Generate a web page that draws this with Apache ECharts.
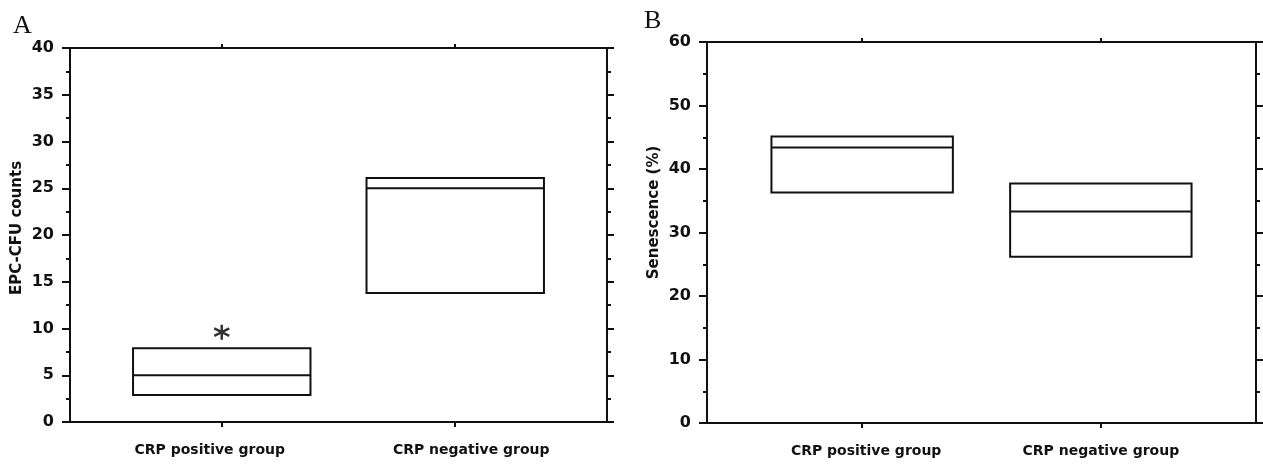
<!DOCTYPE html>
<html>
<head>
<meta charset="utf-8">
<script src="https://cdn.jsdelivr.net/npm/echarts@6/dist/echarts.min.js"></script>
<style>
  html, body { margin: 0; background: #fff; }
  #main { width: 1263px; height: 464px; }
</style>
</head>
<body>
<div id="main"></div>
<script>
// groups on the x axis (placed at x = 0 and x = 1)
var groups = ["CRP positive group", "CRP negative group"];

// panel A - EPC-CFU counts: box bottom / median / box top
var epcLow = [2.9, 13.8];
var epcMedian = [5.0, 25.0];
var epcHigh = [7.9, 26.1];
var epcStar = [[0, 9.6]];
var epcMax = 40, epcStep = 5;

// panel B - senescence (%)
var senLow = [36.3, 26.2];
var senMedian = [43.4, 33.3];
var senHigh = [45.1, 37.7];
var senMax = 60, senStep = 10;

var INK = "#111";
var HALF = 0.38; // half width of a box, in x units

function boxData(low, med, high) {
  return groups.map(function (g, i) { return [i, low[i], med[i], high[i]]; });
}

function renderBox(params, api) {
  var x = api.value(0);
  var lo = api.coord([x - HALF, api.value(1)]);
  var hi = api.coord([x + HALF, api.value(3)]);
  var md = api.coord([x, api.value(2)]);
  return {
    type: "group",
    children: [
      { type: "rect", shape: { x: lo[0], y: hi[1], width: hi[0] - lo[0], height: lo[1] - hi[1] },
        style: { fill: "none", stroke: INK, lineWidth: 2 } },
      { type: "line", shape: { x1: lo[0], y1: md[1], x2: hi[0], y2: md[1] },
        style: { stroke: INK, lineWidth: 2 } }
    ]
  };
}

// shift = horizontal nudge of each group label (px), as in the scanned figure
function xAxisPair(grid, shift) {
  var base = {
    gridIndex: grid, type: "value", min: -0.65, max: 1.65,
    splitLine: { show: false },
    axisLine: { onZero: false, lineStyle: { color: INK, width: 2 } }
  };
  var rich = {};
  shift.forEach(function (s, i) {
    rich["g" + i] = {
      color: INK, fontFamily: "DejaVu Sans", fontSize: 14, fontWeight: "bold",
      padding: [0, s < 0 ? -2 * s : 0, 0, s > 0 ? 2 * s : 0]
    };
  });
  return [
    Object.assign({}, base, {
      position: "bottom",
      axisTick: { customValues: [0, 1], length: 5, lineStyle: { color: INK, width: 2 } },
      axisLabel: {
        customValues: [0, 1], margin: 21, rich: rich,
        formatter: function (v) {
          var i = Math.round(v);
          return "{g" + i + "|" + groups[i] + "}";
        }
      }
    }),
    Object.assign({}, base, {
      position: "top",
      axisTick: { customValues: [0, 1], length: 4, lineStyle: { color: INK, width: 2 } },
      axisLabel: { show: false }
    })
  ];
}

function yAxisPair(grid, max, step, name, namePad) {
  var base = {
    gridIndex: grid, type: "value", min: 0, max: max, interval: step,
    splitLine: { show: false },
    axisLine: { show: true, onZero: false, lineStyle: { color: INK, width: 2 } },
    axisTick: { show: true, length: 8, lineStyle: { color: INK, width: 2 } },
    minorTick: { show: true, splitNumber: 2, length: 4, lineStyle: { color: INK, width: 2 } }
  };
  return [
    Object.assign({}, base, {
      position: "left",
      name: name, nameLocation: "middle", nameRotate: 90, nameGap: 45,
      nameTextStyle: { color: INK, fontFamily: "DejaVu Sans", fontSize: 15, fontWeight: "bold",
                       padding: [0, 0, 0, namePad] },
      axisLabel: { margin: 16, color: INK, fontFamily: "DejaVu Sans", fontSize: 16, fontWeight: "bold" }
    }),
    Object.assign({}, base, {
      position: "right",
      axisTick: { show: true, length: 7, lineStyle: { color: INK, width: 2 } },
      axisLabel: { show: false }
    })
  ];
}

var chart = echarts.init(document.getElementById("main"));

var option = {
  animation: false,
  backgroundColor: "#fff",
  title: [
    { text: "A", left: 8, top: 8, textStyle: { fontFamily: "Liberation Serif", fontSize: 26, fontWeight: "normal", color: INK } },
    { text: "B", left: 639, top: 3, textStyle: { fontFamily: "Liberation Serif", fontSize: 26, fontWeight: "normal", color: INK } }
  ],
  grid: [
    { left: 70, top: 48, width: 537, height: 374 },
    { left: 707, top: 42, width: 549, height: 381 }
  ],
  xAxis: xAxisPair(0, [-12, 16]).concat(xAxisPair(1, [4, 0])),
  yAxis: yAxisPair(0, epcMax, epcStep, "EPC-CFU counts", 14)
    .concat(yAxisPair(1, senMax, senStep, "Senescence (%)", 40)),
  series: [
    {
      type: "custom", xAxisIndex: 0, yAxisIndex: 0,
      renderItem: renderBox, encode: { x: 0, y: [1, 2, 3] },
      data: boxData(epcLow, epcMedian, epcHigh)
    },
    {
      type: "scatter", xAxisIndex: 0, yAxisIndex: 0,
      symbol: "path://M0,-10 L0,10 M-8.66,-5 L8.66,5 M-8.66,5 L8.66,-5",
      symbolSize: [15, 15],
      itemStyle: { color: "none", borderColor: "#000", borderWidth: 2.5 },
      data: epcStar
    },
    {
      type: "custom", xAxisIndex: 2, yAxisIndex: 2,
      renderItem: renderBox, encode: { x: 0, y: [1, 2, 3] },
      data: boxData(senLow, senMedian, senHigh)
    }
  ]
};

chart.setOption(option);
</script>
</body>
</html>
